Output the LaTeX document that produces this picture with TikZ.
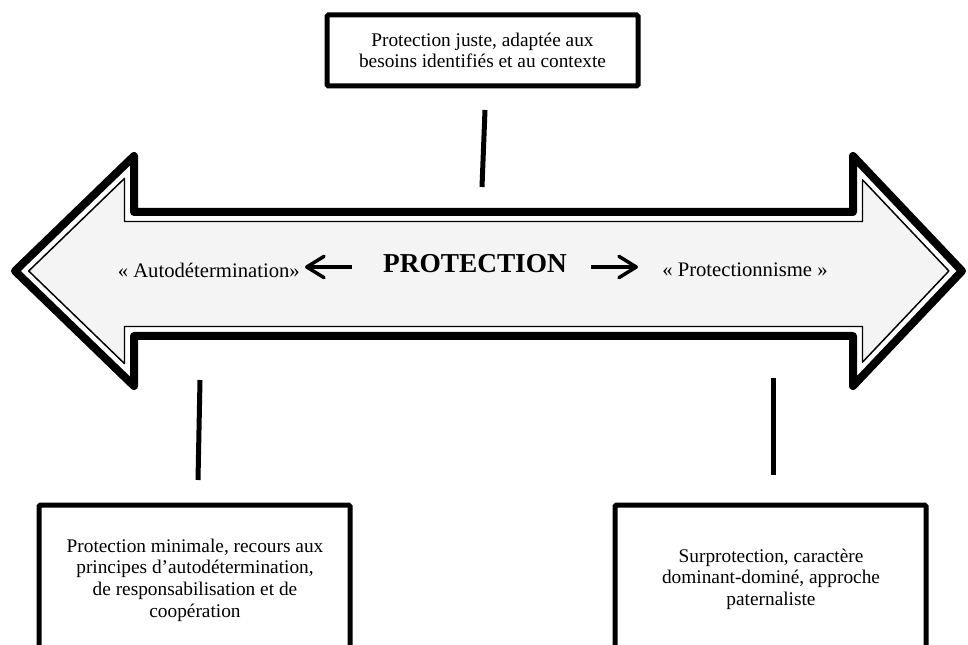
\documentclass[tikz,border=0pt]{standalone}
\usepackage{fontspec}
\setmainfont{Liberation Serif}
\usetikzlibrary{arrows.meta}
\definecolor{shaft}{HTML}{F4F4F4}
% outline of the double-headed arrow (units: 1 = 0.75pt)
\def\dblarrowpath{(15,271) -- (134,156) -- (134,212) -- (853,212) -- (853,156)
  -- (962,271) -- (853,386) -- (853,336) -- (134,336) -- (134,386) -- cycle}
% the same outline, inset towards the inside
\def\dblarrowinner{(28.7,271) -- (124.5,178.4) -- (124.5,221.5) -- (862.5,221.5) -- (862.5,179.8)
  -- (948.9,271) -- (862.5,362.2) -- (862.5,326.5) -- (124.5,326.5) -- (124.5,363.6) -- cycle}
\begin{document}
\begin{tikzpicture}[x=0.75pt,y=-0.75pt,
  boxline/.style={draw, line width=3.75pt, rounded corners=1pt, inner sep=0pt},
  boxtext/.style={align=center, font=\fontsize{14.5}{16.2}\selectfont, inner sep=0pt},
  link/.style={line width=3.75pt},
  pointer/.style={line width=2.6pt, -{Straight Barb[length=13pt,width=16pt,line cap=round,line join=round]}},
  side/.style={font=\fontsize{15.5}{18}\selectfont, inner sep=0pt}]
\useasboundingbox (0,0) rectangle (968,645);
\clip (0,0) rectangle (968,645);

% double-headed arrow: white band, grey inside with a thin rule, thick outer rule
\path[fill=white] \dblarrowpath;
\draw[fill=shaft, line width=1.1pt, line join=round] \dblarrowinner;
\draw[line width=6pt, line join=round] \dblarrowpath;

% labels inside the arrow
\node[side, anchor=east] (auto) at (300,270) {« Autodétermination»};
\node[inner sep=0pt, font=\fontsize{20.5}{24}\bfseries] (prot) at (475,264) {PROTECTION};
\node[side, anchor=west] (protn) at (662,270) {« Protectionnisme »};
\coordinate (la) at (352,267);
\coordinate (lb) at (305,267);
\coordinate (ra) at (591,267);
\coordinate (rb) at (638,267);
\draw[pointer] (la) -- (lb);
\draw[pointer] (ra) -- (rb);

% top box
\node[boxline, boxtext, minimum width=233.25pt, minimum height=53.25pt] (tbox) at (482.5,50.5)
  {Protection juste, adaptée aux\\besoins identifiés et au contexte};
\coordinate (t1) at (485,110);
\coordinate (t2) at (482,187);
\draw[link] (t1) -- (t2);

% bottom left box
\node[boxline, minimum width=233.25pt, minimum height=150pt] (lbox) at (194.5,605) {};
\node[boxtext] (ltext) at (195,580)
  {Protection minimale, recours aux\\principes d’autodétermination,\\de responsabilisation et de\\coopération};
\coordinate (l1) at (200,380);
\coordinate (l2) at (198,480);
\draw[link] (l1) -- (l2);

% bottom right box
\node[boxline, minimum width=233.25pt, minimum height=150pt] (rbox) at (770.5,605) {};
\node[boxtext] (rtext) at (771,579)
  {Surprotection, caractère\\dominant-dominé, approche\\paternaliste};
\coordinate (r1) at (773,378);
\coordinate (r2) at (773,475);
\draw[link] (r1) -- (r2);
\end{tikzpicture}
\end{document}
